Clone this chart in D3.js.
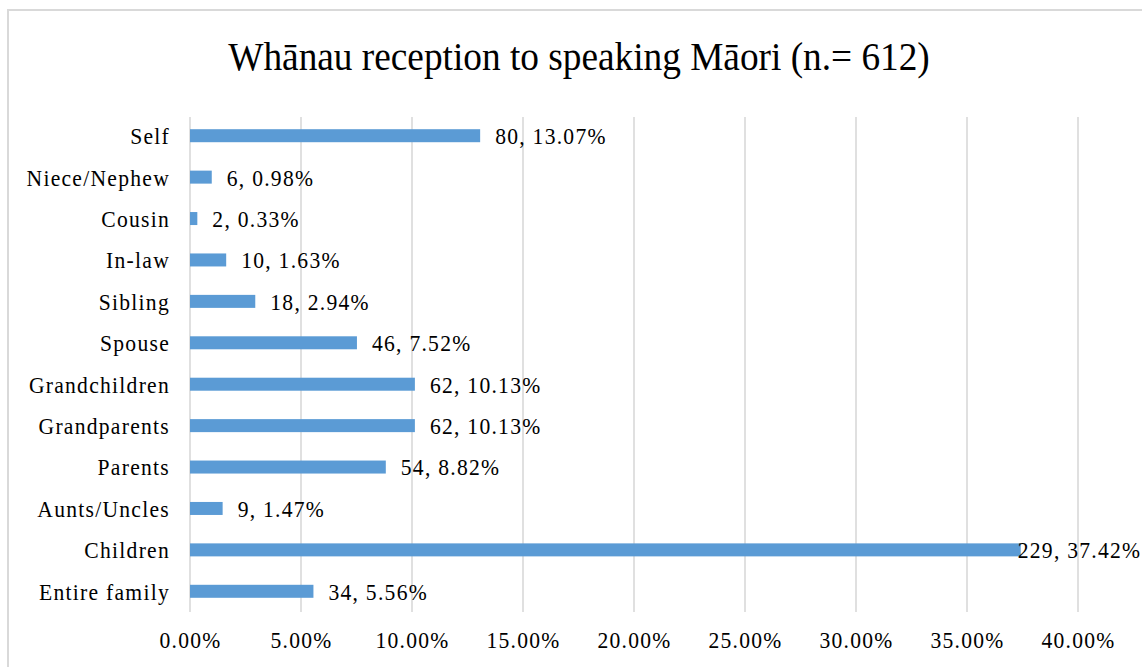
<!DOCTYPE html>
<html>
<head>
<meta charset="utf-8">
<script src="https://cdn.jsdelivr.net/npm/d3@7"></script>
<style>
  body { margin: 0; background: #fff; }
</style>
</head>
<body>
<svg width="1142" height="667"></svg>
<script>
// Chart data (top to bottom as drawn)
var categories = ['Self', 'Niece/Nephew', 'Cousin', 'In-law', 'Sibling', 'Spouse',
    'Grandchildren', 'Grandparents', 'Parents', 'Aunts/Uncles', 'Children', 'Entire family'];
var counts = [80, 6, 2, 10, 18, 46, 62, 62, 54, 9, 229, 34];
var percents = [13.07, 0.98, 0.33, 1.63, 2.94, 7.52, 10.13, 10.13, 8.82, 1.47, 37.42, 5.56];
var xTicks = [0, 5, 10, 15, 20, 25, 30, 35, 40];
var title = 'Whānau reception to speaking Māori (n.= 612)';

var serif = "'Liberation Serif', 'Times New Roman', 'DejaVu Serif', serif";
// the reference text is slightly squeezed horizontally
var squeeze = 0.9;

var rows = categories.map(function (c, i) {
    return { cat: c, count: counts[i], pct: percents[i] };
});

var svg = d3.select('svg');

function styleLabel(sel) {
    sel.style('font-family', serif)
        .style('font-size', '24px')
        .style('letter-spacing', '1.4px')
        .attr('fill', '#000');
}

// chart border (runs off the right/bottom edge like the reference)
svg.append('rect')
    .attr('x', 8).attr('y', 10)
    .attr('width', 1200).attr('height', 720)
    .attr('fill', 'none')
    .attr('stroke', '#d9d9d9')
    .attr('stroke-width', 2);

svg.append('text')
    .attr('transform', 'translate(579,70) scale(0.91,1)')
    .attr('text-anchor', 'middle')
    .style('font-family', serif)
    .style('font-size', '41px')
    .text(title);

var xScale = d3.scaleLinear().domain([0, 40]).range([190, 1078]);
var yScale = d3.scalePoint().domain(categories).range([115, 612]).padding(0.5);
var gridTop = 117, gridBottom = 612;
var barH = 13;

// vertical gridlines
svg.append('g').selectAll('line')
    .data(xTicks)
    .enter().append('line')
    .attr('x1', d => xScale(d)).attr('x2', d => xScale(d))
    .attr('y1', gridTop).attr('y2', gridBottom)
    .attr('stroke', '#d9d9d9')
    .attr('stroke-width', 1.6);

// x axis labels
var xAxis = d3.axisBottom(xScale)
    .tickValues(xTicks)
    .tickSize(0)
    .tickPadding(0)
    .tickFormat(d => d.toFixed(2) + '%');

var axG = svg.append('g')
    .attr('transform', 'translate(0,' + 631 + ')')
    .call(xAxis)
    .attr('font-family', null)
    .attr('font-size', null);
axG.select('.domain').remove();
axG.selectAll('text')
    .attr('transform', 'scale(' + squeeze + ',1)')
    .call(styleLabel);

// bars
svg.append('g').selectAll('rect')
    .data(rows)
    .enter().append('rect')
    .attr('x', xScale(0))
    .attr('y', d => yScale(d.cat) - barH / 2)
    .attr('width', d => xScale(d.pct) - xScale(0))
    .attr('height', barH)
    .attr('fill', '#5b9bd5');

// category labels
svg.append('g').selectAll('text')
    .data(rows)
    .enter().append('text')
    .attr('transform', d => 'translate(170,' + yScale(d.cat) + ') scale(' + squeeze + ',1)')
    .attr('dy', '0.35em')
    .attr('text-anchor', 'end')
    .call(styleLabel)
    .text(d => d.cat);

// data labels
svg.append('g').selectAll('text')
    .data(rows)
    .enter().append('text')
    .attr('transform', function (d) {
        var end = xScale(d.pct);
        var x = end + 15 > 1000 ? end - 3 : end + 15;
        return 'translate(' + x + ',' + yScale(d.cat) + ') scale(' + squeeze + ',1)';
    })
    .attr('dy', '0.35em')
    .call(styleLabel)
    .text(d => d.count + ', ' + d.pct.toFixed(2) + '%');
</script>
</body>
</html>
